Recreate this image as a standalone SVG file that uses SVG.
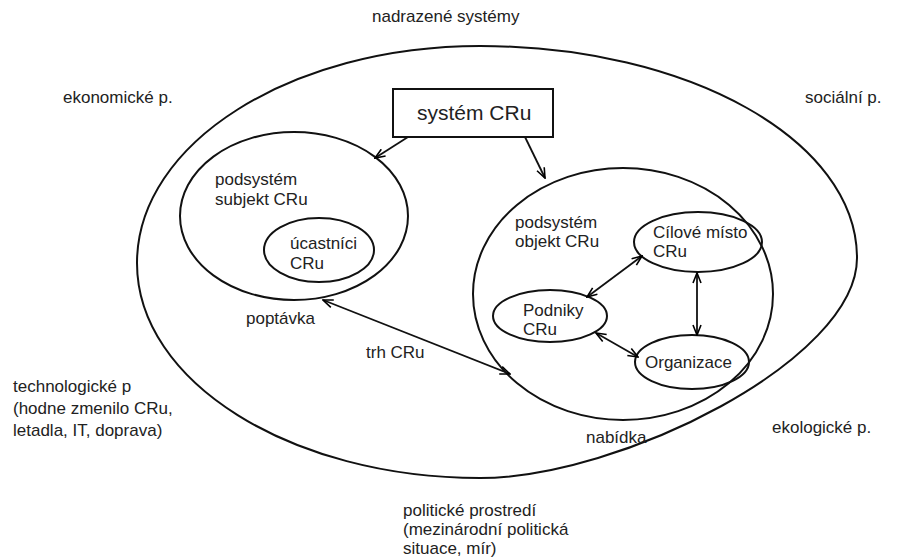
<svg xmlns="http://www.w3.org/2000/svg" width="897" height="560" viewBox="0 0 897 560">
<defs>
<marker id="ah" viewBox="0 0 12 10" refX="11" refY="5" markerWidth="12" markerHeight="10" markerUnits="userSpaceOnUse" orient="auto-start-reverse">
<path d="M1,1 L11,5 L1,9" fill="none" stroke="#000" stroke-width="1.6"/>
</marker>
<style>
.t{font-family:"Liberation Sans",Arial,sans-serif;font-size:17px;fill:#222}
.b{font-family:"Liberation Sans",Arial,sans-serif;font-size:21px;fill:#222}
.e{fill:none;stroke:#111;stroke-width:2}
.c{fill:none;stroke:#111;stroke-width:1.8}
</style>
</defs>
<rect width="897" height="560" fill="#fff"/>
<g id="environment">
<path class="e" d="M137,263 C137,143 291,46 480,46 C688,46 857,140 857,258 C857,360 620,478 480,478 C291,478 137,382 137,263 Z"/>
<text class="t" x="372" y="22">nadrazené systémy</text>
<text class="t" x="63" y="103">ekonomické p.</text>
<text class="t" x="805" y="103">sociální p.</text>
<text class="t" x="13" y="392">technologické p</text>
<text class="t" x="13" y="414">(hodne zmenilo CRu,</text>
<text class="t" x="13" y="436">letadla, IT, doprava)</text>
<text class="t" x="772" y="433">ekologické p.</text>
<text class="t" x="403" y="516">politické prostredí</text>
<text class="t" x="403" y="535">(mezinárodní politická</text>
<text class="t" x="403" y="554">situace, mír)</text>
</g>
<g id="system">
<rect x="393" y="89" width="160" height="48" fill="#fff" stroke="#111" stroke-width="2"/>
<text class="b" x="417" y="120">systém CRu</text>
</g>
<g id="subjekt">
<ellipse class="e" cx="294" cy="216" rx="114" ry="84"/>
<text class="t" x="215" y="185">podsystém</text>
<text class="t" x="215" y="205">subjekt CRu</text>
</g>
<g id="ucastnici">
<ellipse class="e" cx="319" cy="250" rx="55" ry="32"/>
<text class="t" x="290" y="249">úcastníci</text>
<text class="t" x="290" y="269">CRu</text>
</g>
<g id="objekt">
<ellipse class="e" cx="623" cy="294" rx="150" ry="126"/>
<text class="t" x="515" y="228">podsystém</text>
<text class="t" x="515" y="247">objekt CRu</text>
</g>
<g id="cilove">
<ellipse class="e" cx="698" cy="242" rx="64" ry="30"/>
<text class="t" x="653" y="238">Cílové místo</text>
<text class="t" x="653" y="257">CRu</text>
</g>
<g id="podniky">
<ellipse class="e" cx="550" cy="316" rx="57" ry="26"/>
<text class="t" x="523" y="316">Podniky</text>
<text class="t" x="523" y="335">CRu</text>
</g>
<g id="organizace">
<ellipse class="e" cx="692" cy="362" rx="57" ry="27"/>
<text class="t" x="645" y="368">Organizace</text>
</g>
<g id="labels">
<text class="t" x="246" y="324">poptávka</text>
<text class="t" x="366" y="358">trh CRu</text>
<text class="t" x="586" y="443">nabídka</text>
</g>
<g id="connectors">
<line class="c" x1="408" y1="137" x2="375" y2="158" marker-end="url(#ah)"/>
<line class="c" x1="525" y1="137" x2="545" y2="178" marker-end="url(#ah)"/>
<line class="c" x1="323" y1="300" x2="510" y2="374" marker-start="url(#ah)" marker-end="url(#ah)"/>
<line class="c" x1="587" y1="297" x2="642" y2="256" marker-start="url(#ah)" marker-end="url(#ah)"/>
<line class="c" x1="697" y1="273" x2="697" y2="335" marker-start="url(#ah)" marker-end="url(#ah)"/>
<line class="c" x1="596" y1="333" x2="638" y2="357" marker-start="url(#ah)" marker-end="url(#ah)"/>
</g>
</svg>
